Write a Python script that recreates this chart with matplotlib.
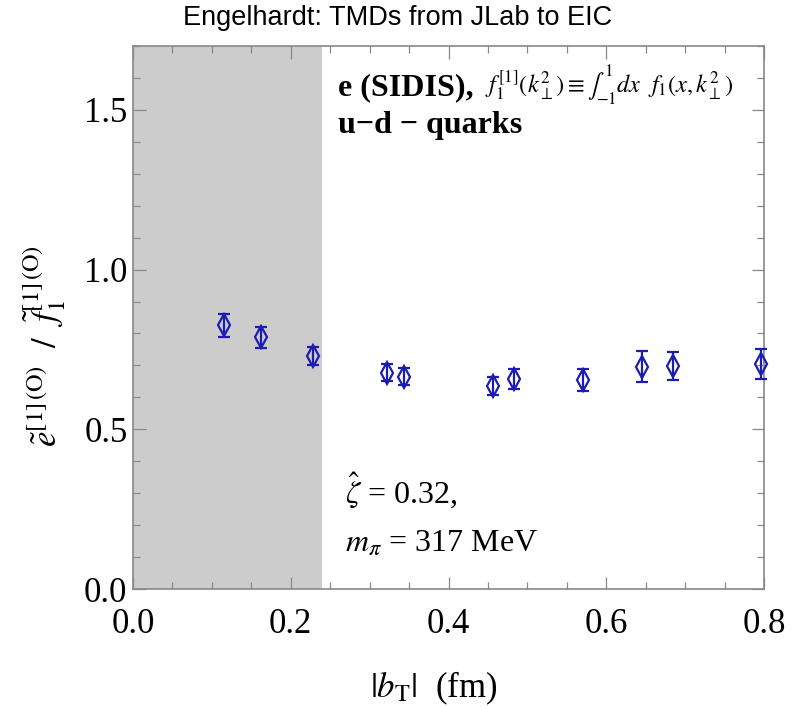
import matplotlib
matplotlib.use("Agg")
import matplotlib.pyplot as plt
from matplotlib.ticker import MultipleLocator

plt.rcParams['mathtext.fontset'] = 'stix'
plt.rcParams['font.family'] = ['Liberation Serif', 'DejaVu Serif']

# data
b_T = [0.115, 0.162, 0.2285, 0.322, 0.343, 0.457, 0.483, 0.570, 0.6455, 0.684, 0.796]
ratio = [0.825, 0.788, 0.730, 0.677, 0.665, 0.636, 0.657, 0.655, 0.696, 0.698, 0.704]
err = [0.035, 0.033, 0.029, 0.027, 0.027, 0.029, 0.032, 0.035, 0.049, 0.044, 0.046]
shade_end = 0.24
xticks = [0.0, 0.2, 0.4, 0.6, 0.8]
xticklabels = ['0.0', '0.2', '0.4', '0.6', '0.8']
yticks = [0.0, 0.5, 1.0, 1.5]
yticklabels = ['0.0', '0.5', '1.0', '1.5']

fig = plt.figure(figsize=(7.97, 7.07), dpi=100)
ax = fig.add_axes([133/797, 1-589/707, (764-133)/797, (589-46)/707])

ax.axvspan(0, shade_end, color='#cccccc', lw=0, zorder=0)
blue = '#1c1cb0'
ax.errorbar(b_T, ratio, yerr=err, fmt='d', ms=11, mfc='none', mec=blue, mew=1.6,
            ecolor=blue, elinewidth=1.6, capsize=4, capthick=1.6, color=blue,
            clip_on=False, zorder=3)

ax.set_xlim(0, 0.8)
ax.set_ylim(0, 1.7)
ax.set_xticks(xticks)
ax.set_xticklabels(xticklabels)
ax.set_yticks(yticks)
ax.set_yticklabels(yticklabels)
ax.xaxis.set_minor_locator(MultipleLocator(0.05))
ax.yaxis.set_minor_locator(MultipleLocator(0.1))
ax.tick_params(which='both', direction='in', top=True, right=True, color='#888888',
               labelsize=25, width=0.9)
ax.tick_params(which='major', length=9)
ax.tick_params(which='minor', length=5)
ax.tick_params(axis='x', pad=14)
ax.tick_params(axis='y', pad=4)
for s in ax.spines.values():
    s.set_color('#888888')
    s.set_linewidth(1.2)

fig.text(434/797, 1-688/707, r'$|b_{\mathrm{T}}|$  (fm)', ha='center', va='center', fontsize=25)
fig.text(45/797, 1-346/707,
         r'$\tilde{e}^{[1]\,(\mathrm{O})}\ \ /\ \ \tilde{f}_1^{[1]\,(\mathrm{O})}$',
         ha='center', va='center', rotation=90, fontsize=25)

fig.text(398/797, 1-18/707, 'Engelhardt: TMDs from JLab to EIC', ha='center', va='center',
         fontsize=19.5, family='Liberation Sans')

fig.text(338/797, 1-88/707, 'e (SIDIS),', fontsize=23,
         fontweight='bold', va='center', ha='left')
fig.text(338/797, 1-125/707, 'u\u2212d \u2212 quarks', fontsize=23,
         fontweight='bold', va='center', ha='left')
fig.text(485/797, 1-86/707,
         r'$f_1^{[1]}(k_\perp^2) \equiv \int_{-1}^{1} dx\ \ f_1(x, k_\perp^2)$',
         fontsize=17.5, va='center', ha='left')
fig.text(345/797, 1-490/707, r'$\hat{\zeta}$ = 0.32,', fontsize=23,
         va='center', ha='left')
fig.text(345/797, 1-543/707, r'$m_\pi$ = 317 MeV', fontsize=23,
         va='center', ha='left')

fig.savefig('out.png', dpi=100)
